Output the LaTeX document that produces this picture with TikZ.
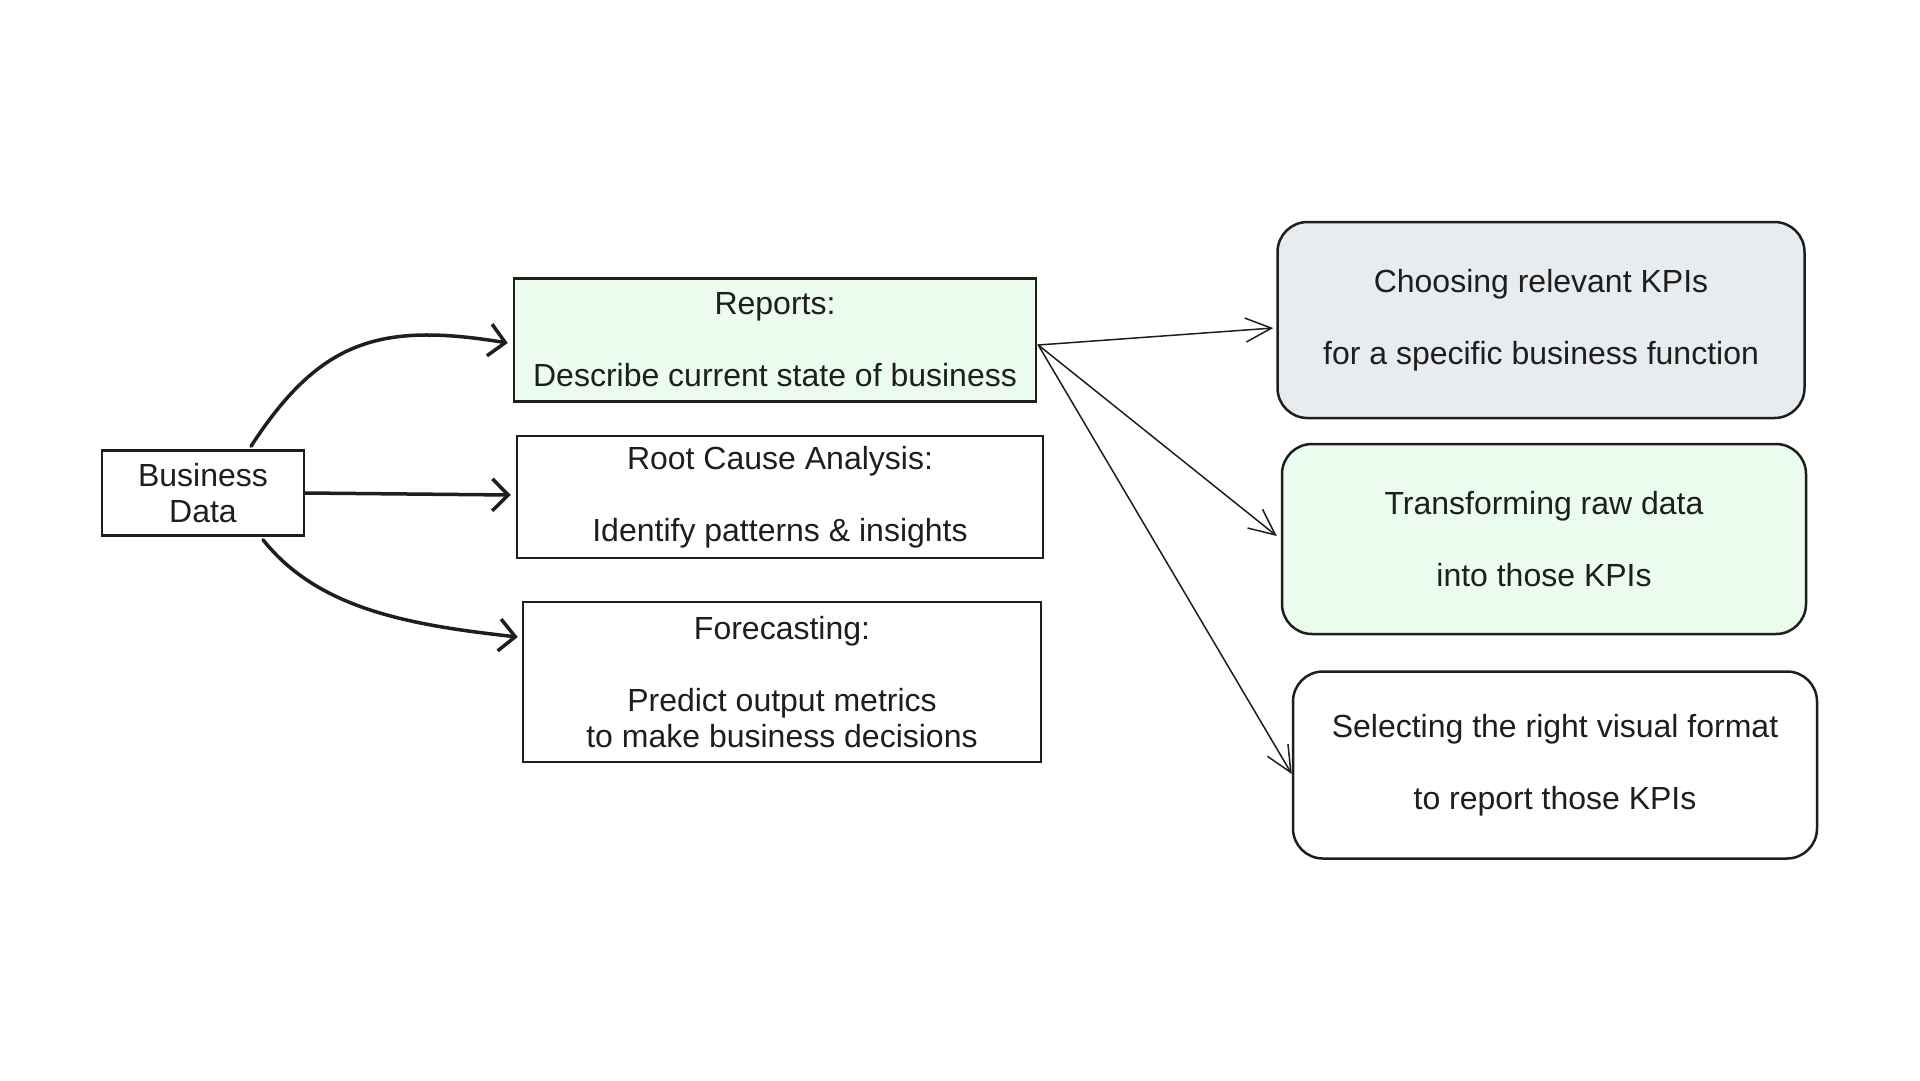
\documentclass[tikz,border=0pt]{standalone}
\usepackage{fontspec}
\setmainfont{Liberation Sans}
\usetikzlibrary{arrows.meta,calc}
\definecolor{ink}{HTML}{1E1E1E}
\definecolor{lgreen}{HTML}{EBFBEE}
\definecolor{lgray}{HTML}{E9ECEF}
\begin{document}
\begin{tikzpicture}[x=1pt,y=-1pt,
  every node/.style={font=\fontsize{32}{36}\selectfont, text=ink},
  sqbox/.style={draw=ink, line width=2.5pt, rectangle, inner sep=0pt, align=center},
  rbox/.style={draw=ink, line width=2.5pt, rectangle, rounded corners=30pt, inner sep=0pt, align=center},
  bigarrow/.style={draw=ink, line width=3.5pt, line cap=round, -{Straight Barb[length=16pt,width=32pt,line width=3.5pt]}},
  smallarrow/.style={draw=ink, line width=1.5pt, line cap=round, -{Straight Barb[length=26pt,width=24pt,line width=1.5pt]}}]
\fill[white] (0,0) rectangle (1920,1080);
\useasboundingbox (0,0) rectangle (1920,1080);

\node[sqbox, minimum width=202pt, minimum height=85pt] (bd) at (203,493) {Business\\Data};
\node[sqbox, fill=lgreen, minimum width=522pt, minimum height=123pt] (rep) at (775,340) {Reports:\\[36pt]Describe current state of business};
\node[sqbox, minimum width=526pt, minimum height=122pt] (rca) at (780,497) {Root Cause Analysis:\\[36pt]Identify patterns \& insights};
\node[sqbox, minimum width=518pt, minimum height=160pt] (fc) at (782,682) {Forecasting:\\[36pt]Predict output metrics\\to make business decisions};

\node[rbox, fill=lgray, minimum width=527pt, minimum height=196pt] (ch) at (1541,320) {Choosing relevant KPIs\\[36pt]for a specific business function};
\node[rbox, fill=lgreen, minimum width=524pt, minimum height=190pt] (tr) at (1544,539) {Transforming raw data\\[36pt]into those KPIs};
\node[rbox, minimum width=524pt, minimum height=187pt] (sel) at (1555,765) {Selecting the right visual format\\[36pt]to report those KPIs};

\draw[bigarrow] ($(bd.north)+(48,-3)$) .. controls (320,340) and (380,322) .. ($(rep.west)+(-5,3)$);
\draw[bigarrow] (bd.east) -- ($(rca.west)+(-5,-2)$);
\draw[bigarrow] ($(bd.south)+(60,3)$) .. controls (318,609) and (409,625) .. ($(fc.west)+(-4,-45)$);

\coordinate (rs) at ($(rep.east)+(1,5)$);
\draw[smallarrow] (rs) -- ($(ch.west)+(-3,8)$);
\draw[smallarrow] (rs) -- ($(tr.west)+(-4,-3)$);
\draw[smallarrow] (rs) -- ($(sel.west)+(0,9)$);
\end{tikzpicture}
\end{document}
